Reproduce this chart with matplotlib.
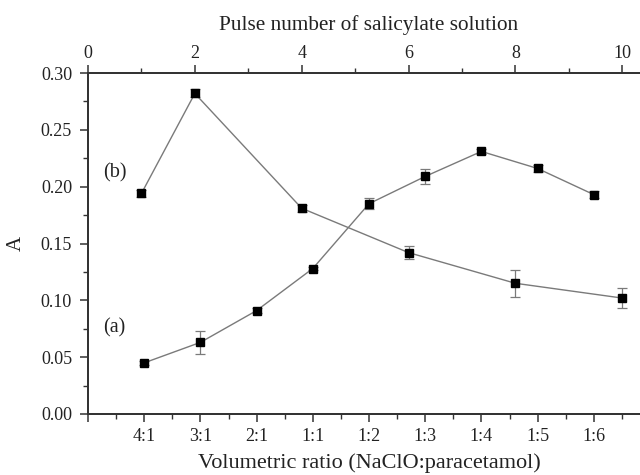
import matplotlib
matplotlib.use("Agg")
import matplotlib.pyplot as plt
from matplotlib.ticker import MultipleLocator, FixedLocator

plt.rcParams['font.family'] = ['Liberation Serif', 'DejaVu Serif']

# Series (a): absorbance vs volumetric ratio (bottom axis)
ratio_labels = ["4:1", "3:1", "2:1", "1:1", "1:2", "1:3", "1:4", "1:5", "1:6"]
a_values = [0.045, 0.063, 0.091, 0.128, 0.185, 0.209, 0.231, 0.216, 0.193]
a_errors = [0.0015, 0.010, 0.002, 0.0015, 0.005, 0.0065, 0.0025, 0.003, 0.003]

# Series (b): absorbance vs pulse number (top axis)
pulse_numbers = [1, 2, 4, 6, 8, 10]
b_values = [0.194, 0.282, 0.181, 0.142, 0.115, 0.102]
b_errors = [0.0035, 0.0035, 0.003, 0.006, 0.012, 0.009]

y_ticks = [0.00, 0.05, 0.10, 0.15, 0.20, 0.25, 0.30]

fig = plt.figure(figsize=(6.4, 4.75), dpi=100)
ax = fig.add_axes([88/640, 61/475, 562/640, 341/475])
ax2 = ax.twiny()

line_col = "#7a7a7a"
spine_col = "#333333"
text_col = "#222222"

ratio_pos = list(range(1, len(ratio_labels) + 1))
ax.errorbar(ratio_pos, a_values, yerr=a_errors, color=line_col, lw=1.0,
            marker="s", markersize=5.5, mfc="black", mec="black",
            ecolor=line_col, elinewidth=0.9, capsize=3.5, capthick=0.9, clip_on=False)
ax2.errorbar(pulse_numbers, b_values, yerr=b_errors, color=line_col, lw=1.0,
             marker="s", markersize=5.5, mfc="black", mec="black",
             ecolor=line_col, elinewidth=0.9, capsize=3.5, capthick=0.9, clip_on=False)

ax.set_xlim(0, 10)
ax2.set_xlim(0, 10.52)
ax.set_ylim(0, 0.30)

ax.xaxis.set_major_locator(FixedLocator(list(range(0, 11))))
ax.set_xticklabels([""] + ratio_labels + [""])
ax.xaxis.set_minor_locator(MultipleLocator(0.5))
ax.set_yticks(y_ticks)
ax.set_yticklabels([f"{v:.2f}" for v in y_ticks])
ax.yaxis.set_minor_locator(MultipleLocator(0.025))

ax2.xaxis.set_major_locator(MultipleLocator(2))
ax2.xaxis.set_minor_locator(MultipleLocator(1))

for a in (ax, ax2):
    for s in a.spines.values():
        s.set_color(spine_col)
        s.set_linewidth(1.3)
    a.spines['right'].set_visible(False)
    a.tick_params(which='major', direction='out', length=6, width=1.1, color=spine_col,
                  labelsize=13, labelcolor=text_col)
    a.tick_params(which='minor', direction='out', length=3.5, width=1.0, color=spine_col)

ax.tick_params(axis='x', which='major', pad=4)
ax.tick_params(axis='y', which='major', pad=5.5)
ax2.tick_params(axis='x', which='major', pad=2)

ax.set_xlabel("Volumetric ratio (NaClO:paracetamol)", fontsize=16, color=text_col, labelpad=6)
ax2.set_xlabel("Pulse number of salicylate solution", fontsize=15.3, color=text_col, labelpad=11)
ax.set_ylabel("A", fontsize=15, color=text_col, labelpad=11)

ax.text(0.27, 0.212, "(b)", fontsize=14.5, color=text_col, va="center", ha="left")
ax.text(0.27, 0.076, "(a)", fontsize=14.5, color=text_col, va="center", ha="left")

fig.savefig("out.png", dpi=100)
